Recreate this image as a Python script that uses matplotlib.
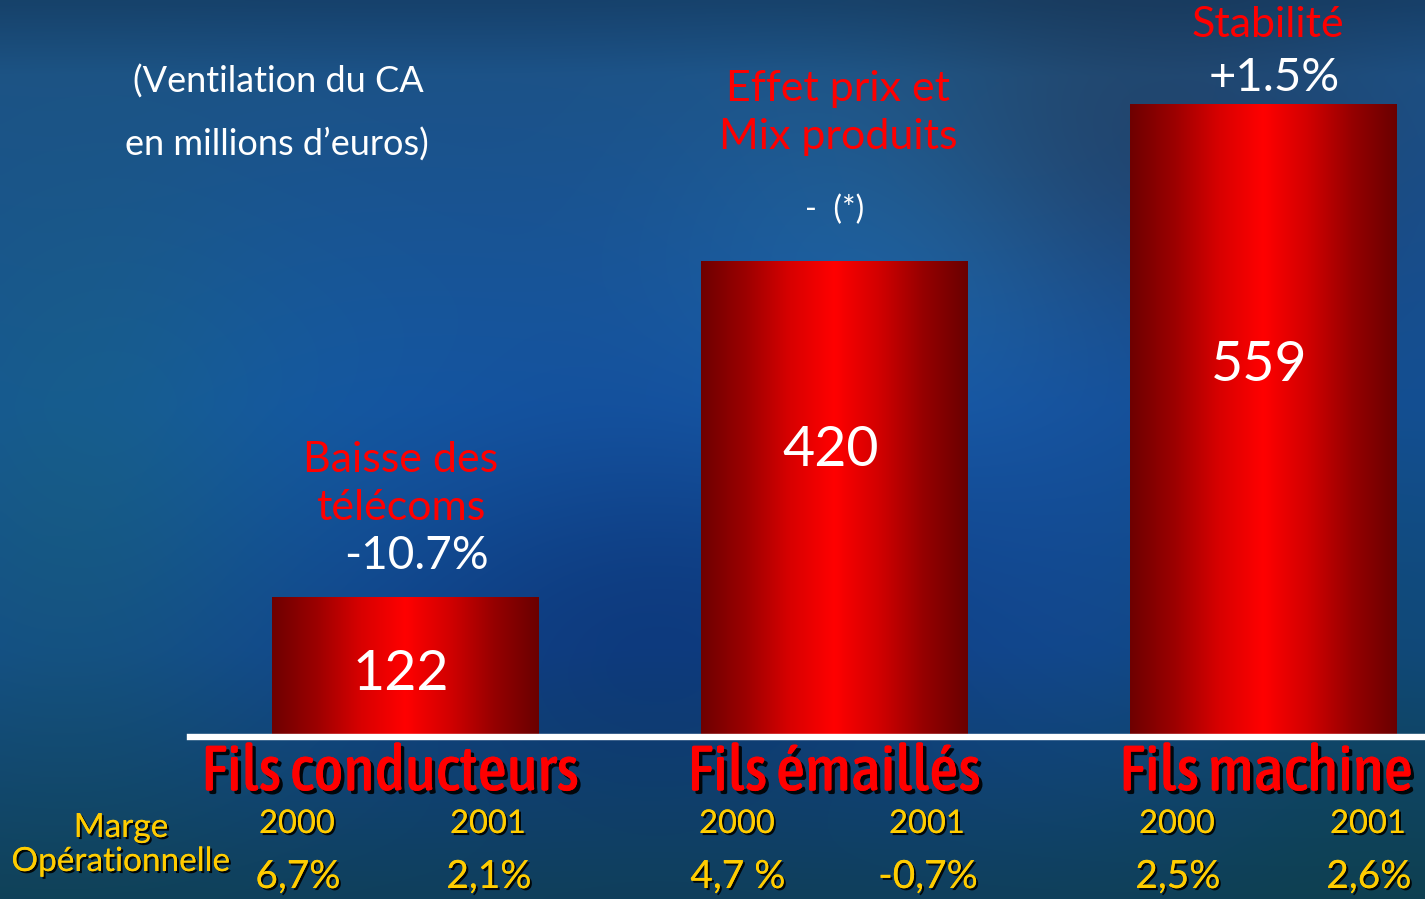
import numpy as np
import matplotlib
matplotlib.use("Agg")
import matplotlib.pyplot as plt
import matplotlib.patheffects as pe
from matplotlib import font_manager
from matplotlib.colors import LinearSegmentedColormap

# data
categories = ["Fils conducteurs", "Fils émaillés", "Fils machine"]
ca_2001 = [122, 420, 559]
comment_red = ["Baisse des\ntélécoms", "Effet prix et\nMix produits", "Stabilité"]
comment_white = ["-10.7%", "-  (*)", "+1.5%"]
years = ["2000", "2001"]
marge = [["6,7%", "2,1%"], ["4,7 %", "-0,7%"], ["2,5%", "2,6%"]]

W, H = 1425, 899


def fx(px):
    return px / W


def fy(py):
    return 1 - py / H


def has_font(name):
    try:
        font_manager.findfont(name, fallback_to_default=False)
        return True
    except Exception:
        return False


# look for an upright narrow face for the category titles
candidates = []
for f in font_manager.fontManager.ttflist:
    n = f.name.lower()
    fn = f.fname.lower()
    if f.style != 'normal' or 'oblique' in fn or 'italic' in fn:
        continue
    if 'mono' in n or 'serif' in n.replace('sans', ''):
        continue
    if 'narrow' in n or 'condensed' in n or 'condensed' in fn or f.stretch in ('condensed', 'semi-condensed'):
        w = f.weight if isinstance(f.weight, int) else (700 if 'bold' in str(f.weight) else 400)
        if 'bold' in fn:
            w = 700
        candidates.append((abs(w - 500), f.fname))
candidates.sort()
narrow_prop = font_manager.FontProperties(fname=candidates[0][1]) if candidates else None

main_font = "Lato" if has_font("Lato") else "DejaVu Sans"
plt.rcParams['font.family'] = [main_font, 'DejaVu Sans']

fig = plt.figure(figsize=(W / 100, H / 100), dpi=100)

# background (smooth blue)
bg = fig.add_axes([0, 0, 1, 1], zorder=0)
yy, xx = np.mgrid[0:H:6, 0:W:6].astype(float)
t = yy / H
top = np.array([0.11, 0.32, 0.53])
mid = np.array([0.08, 0.31, 0.62])
bot = np.array([0.06, 0.25, 0.36])
img = np.zeros(xx.shape + (3,))
for c in range(3):
    img[..., c] = np.interp(t, [0, 0.08, 0.45, 0.72, 1.0],
                            [top[c] * 0.8, top[c], mid[c], mid[c] * 0.92, bot[c]])


def blob(cx, cy, sx, sy, amp):
    g = np.exp(-((xx - cx) ** 2 / (2 * sx ** 2) + (yy - cy) ** 2 / (2 * sy ** 2)))
    return g[..., None] * np.array(amp)


img += blob(900, 260, 160, 140, [0.02, 0.07, 0.06])
img += blob(1130, 150, 180, 120, [0.02, -0.06, -0.12])
img += blob(60, 500, 140, 220, [0.01, 0.04, -0.08])
img += blob(650, 620, 200, 120, [-0.02, -0.06, -0.08])
img += blob(1380, 650, 160, 200, [-0.01, 0.0, -0.1])
img += blob(300, 400, 220, 160, [0.0, 0.03, 0.02])
img = np.clip(img, 0, 1)
bg.imshow(img, extent=[0, W, H, 0], aspect='auto', interpolation='bicubic')
bg.set_xlim(0, W)
bg.set_ylim(H, 0)
bg.axis('off')

# main axes: bars sit on white line at y=735 px
base_px = 735
px_per_unit = 1.1288
ax = fig.add_axes([0, fy(base_px), 1, base_px / H], zorder=1)
ax.patch.set_alpha(0)
x = np.arange(len(categories))
ax.set_xlim((0 - 405.5) / 429, (W - 405.5) / 429)
ax.set_ylim(0, base_px / px_per_unit)
ax.axis('off')

bars = ax.bar(x, ca_2001, width=0.622, color='none', edgecolor='none')
red_cmap = LinearSegmentedColormap.from_list(
    "bar", ["#6e0000", "#9c0000", "#d80000", "#ff0000", "#d20000", "#960000", "#6a0000"])
grad = np.linspace(0, 1, 256).reshape(1, -1)
for b in bars:
    x0, w, h = b.get_x(), b.get_width(), b.get_height()
    im = ax.imshow(grad, cmap=red_cmap, extent=[x0, x0 + w, 0, h],
                   aspect='auto', zorder=2)
    im.set_clip_path(b)

# values in the bars
label_frac = [0.44, 0.60, 0.585]
for i, v in enumerate(ca_2001):
    ax.text(x[i] - 0.01, v * label_frac[i], str(v), color='white', fontsize=40,
            ha='center', va='center', zorder=3)

# white baseline
ax.axhline(-2.2, xmin=190 / W, xmax=1, color='white', lw=4.6,
           clip_on=False, zorder=3)

# header
fig.text(fx(278), fy(82), "(Ventilation du CA", color='white', fontsize=26,
         ha='center', va='center')
fig.text(fx(277), fy(145), "en millions d\u2019euros)", color='white', fontsize=26,
         ha='center', va='center')

# comments above bars
red_pos = [(401, 484), (838, 113), (1268, 25)]
white_pos = [(416, 556), (835, 210), (1274, 78)]
white_size = [33, 23, 34]
for i in range(3):
    fig.text(fx(red_pos[i][0]), fy(red_pos[i][1]), comment_red[i], color='#ff0000',
             fontsize=31, ha='center', va='center', linespacing=1.32)
    fig.text(fx(white_pos[i][0]), fy(white_pos[i][1]), comment_white[i],
             color='white', fontsize=white_size[i], ha='center', va='center')

# category labels with shadow, sized to span like the reference
shadow = [pe.withSimplePatchShadow(offset=(2.5, -2.5), shadow_rgbFace='black', alpha=0.9),
          pe.Normal()]
cat_x = [390, 834, 1266]
cat_texts = []
for i, c in enumerate(categories):
    kw = dict(fontproperties=narrow_prop) if narrow_prop is not None else dict(family='DejaVu Sans')
    tt = fig.text(fx(cat_x[i]), fy(773), c, color='#ff0000', ha='center', va='center',
                  path_effects=shadow, **kw)
    tt.set_fontsize(38)
    cat_texts.append(tt)
fig.canvas.draw()
r = fig.canvas.get_renderer()
wpx = cat_texts[0].get_window_extent(r).width
size = min(38 * 386 / wpx, 46)
for tt in cat_texts:
    tt.set_fontsize(size)

# marge opérationnelle
yellow = '#ffcc00'
small_shadow = [pe.withSimplePatchShadow(offset=(1.5, -1.5), shadow_rgbFace='black', alpha=0.9),
                pe.Normal()]
fig.text(fx(121), fy(828), "Marge", color=yellow, fontsize=24, ha='center',
         va='center', path_effects=small_shadow)
fig.text(fx(121), fy(862), "Opérationnelle", color=yellow, fontsize=24,
         ha='center', va='center', path_effects=small_shadow)
year_x = [[297, 488], [737, 927], [1177, 1368]]
for i in range(3):
    for j in range(2):
        fig.text(fx(year_x[i][j]), fy(824), years[j], color=yellow, fontsize=23.5,
                 ha='center', va='center', path_effects=small_shadow)
        fig.text(fx(year_x[i][j] + 1), fy(877), marge[i][j], color=yellow,
                 fontsize=28, ha='center', va='center', path_effects=small_shadow)

fig.savefig("out.png", dpi=100)
